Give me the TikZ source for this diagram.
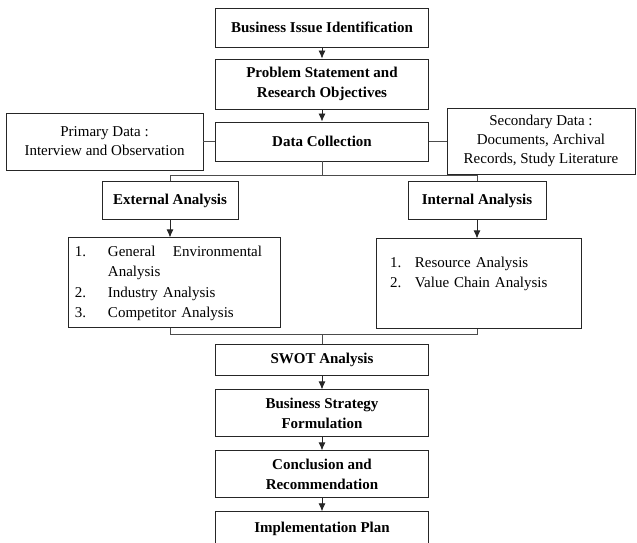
\documentclass[tikz,border=0pt]{standalone}
\usepackage{fontspec}
\setmainfont{Liberation Serif}
\usetikzlibrary{arrows.meta}
\tikzstyle{mainbox} = [rectangle, draw=black!85, line width=0.8pt, text centered, align=center, font=\fontsize{15}{20.5}\selectfont\bfseries, minimum width=213pt, inner sep=0pt]
\tikzstyle{sidebox} = [rectangle, draw=black!85, line width=0.8pt, text centered, align=center, font=\fontsize{15}{19}\selectfont, inner sep=0pt]
\tikzstyle{listbox} = [rectangle, draw=black!85, line width=0.8pt, align=left, font=\fontsize{15}{20.5}\selectfont, minimum height=90pt, inner ysep=0pt]
\tikzstyle{link} = [line width=0.8pt, draw=black!70]
\tikzstyle{connector} = [line width=0.8pt, draw=black!85, -{Latex[length=8pt,width=7pt]}]

\begin{document}
\begin{tikzpicture}
        \useasboundingbox (-322pt,27.5pt) rectangle (315pt,-514.5pt);
        \clip (-322pt,27.5pt) rectangle (315pt,-514.5pt);
        \node (issue) [mainbox, minimum height=39pt] {Business Issue Identification};
        \node (problem) [mainbox, minimum height=50pt, below of = issue, yshift = -28pt] {Problem Statement and\\Research Objectives};
        \node (collect) [mainbox, minimum height=39pt, below of = problem, yshift = -29pt] {Data Collection};
        \node (primary) [sidebox, minimum width=197pt, minimum height=57pt, left of = collect, xshift = -189pt] {Primary Data :\\Interview and Observation};
        \node (secondary) [sidebox, minimum width=188pt, minimum height=66pt, right of = collect, xshift = 190.5pt] {Secondary Data :\\Documents, Archival\\Records, Study Literature};
        \node (external) [mainbox, minimum width=136pt, minimum height=38pt, below of = collect, xshift = -152pt, yshift = -31pt] {External Analysis};
        \node (internal) [mainbox, minimum width=138pt, minimum height=38pt, below of = collect, xshift = 155pt, yshift = -31pt] {Internal Analysis};
        \node (extlist) [listbox, text width=198pt, inner xsep=7pt, below of = external, xshift = 4pt, yshift = -53.5pt] {%
            \begin{tabular}{@{}p{33pt}@{}l@{}}
            1. & \makebox[154pt][l]{General\hfill Environmental}\\
               & Analysis\\
            2. & Industry Analysis\\
            3. & Competitor Analysis
            \end{tabular}};
        \node (intlist) [listbox, text width=177pt, inner xsep=14pt, below of = internal, xshift = 1.5pt, yshift = -54.5pt] {%
            \begin{tabular}{@{}p{25pt}@{}l@{}}
            1. & Resource Analysis\\
            2. & Value Chain Analysis\\
               &
            \end{tabular}};
        \node (swot) [mainbox, minimum height=31pt, below of = collect, yshift = -190.5pt] {SWOT Analysis};
        \node (strategy) [mainbox, minimum height=47pt, below of = swot, yshift = -24.5pt] {Business Strategy\\Formulation};
        \node (conclusion) [mainbox, minimum height=47pt, below of = strategy, yshift = -32.5pt] {Conclusion and\\Recommendation};
        \node (plan) [mainbox, minimum height=34pt, below of = conclusion, yshift = -26pt] {Implementation Plan};
        \draw [connector] (issue) -- (problem);
        \draw [connector] (problem) -- (collect);
        \draw [link] (primary) -- (collect);
        \draw [link] (collect) -- (secondary);
        \draw [link] (collect.south) -- ++(0,-14pt) coordinate (split);
        \draw [link] (external.north) |- (split) -| (internal.north);
        \draw [connector] (external.south) -- (external.south |- extlist.north);
        \draw [connector] (internal.south) -- (internal.south |- intlist.north);
        \draw [link] (swot.north) -- ++(0,10pt) coordinate (join);
        \draw [link] (extlist.south -| external.south) |- (join) -| (intlist.south -| internal.south);
        \draw [connector] (swot) -- (strategy);
        \draw [connector] (strategy) -- (conclusion);
        \draw [connector] (conclusion) -- (plan);
    \end{tikzpicture}
\end{document}
